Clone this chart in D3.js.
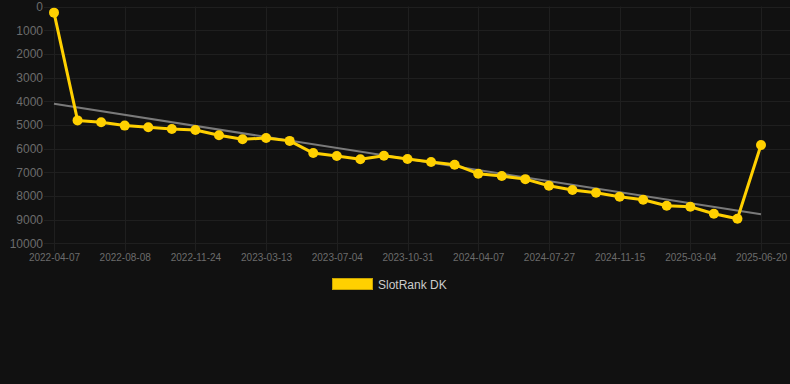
<!DOCTYPE html>
<html lang="en">
<head>
<meta charset="UTF-8">
<title>SlotRank DK</title>
<script src="https://cdn.jsdelivr.net/npm/d3@7"></script>
<style>
    html, body { margin: 0; padding: 0; background: #111111; }
    svg { display: block; font-family: "Liberation Sans", Arial, Helvetica, sans-serif; }
    .grid line { stroke: #1f1f1f; stroke-width: 1; }
    .tick-label { fill: #6c6c6c; }
    .legend text { fill: #cccccc; font-size: 12px; }
</style>
</head>
<body>
<svg width="790" height="384"></svg>
<script>
// categories (one per sample) and tick labels
const dates = [
    "2022-04-07", "2022-05-10", "2022-07-06", "2022-08-08", "2022-09-10", "2022-10-13",
    "2022-11-24", "2022-12-27", "2023-02-05", "2023-03-13", "2023-04-15", "2023-05-28",
    "2023-07-04", "2023-08-06", "2023-09-20", "2023-10-31", "2023-12-04", "2024-01-30",
    "2024-04-07", "2024-05-10", "2024-06-15", "2024-07-27", "2024-08-30", "2024-10-02",
    "2024-11-15", "2024-12-18", "2025-01-25", "2025-03-04", "2025-04-08", "2025-05-14",
    "2025-06-20"
];
const tickLabels = [
    "2022-04-07", "2022-08-08", "2022-11-24", "2023-03-13", "2023-07-04", "2023-10-31",
    "2024-04-07", "2024-07-27", "2024-11-15", "2025-03-04", "2025-06-20"
];
// rank values (lower is better, axis reversed)
const rank = [
    260, 4810, 4890, 5030, 5100, 5170, 5215, 5440, 5605, 5555, 5675,
    6190, 6310, 6450, 6300, 6440, 6570, 6680, 7060, 7160, 7290,
    7570, 7750, 7865, 8035, 8160, 8415, 8455, 8750, 8965, 5850
];
// trend line ends
const trend = [4110, 8775];
const yTicks = [0, 1000, 2000, 3000, 4000, 5000, 6000, 7000, 8000, 9000, 10000];
const seriesName = "SlotRank DK";

const svg = d3.select("svg"),
      width = +svg.attr("width");

const x = d3.scalePoint().domain(dates).range([54, 761]);
const y = d3.scaleLinear().domain([0, 10000]).range([6.5, 243.3]);

// horizontal grid
svg.append("g")
    .attr("class", "grid")
    .selectAll("line")
    .data(yTicks)
    .enter().append("line")
    .attr("x1", 44)
    .attr("x2", width)
    .attr("y1", d => Math.round(y(d)) + 0.5)
    .attr("y2", d => Math.round(y(d)) + 0.5);

// vertical grid
svg.append("g")
    .attr("class", "grid")
    .selectAll("line")
    .data(tickLabels)
    .enter().append("line")
    .attr("x1", d => Math.round(x(d)) + 0.5)
    .attr("x2", d => Math.round(x(d)) + 0.5)
    .attr("y1", y(0))
    .attr("y2", y(10000) + 8);

// y axis labels
const yAxis = svg.append("g")
    .attr("transform", "translate(43,0)")
    .call(d3.axisLeft(y).tickValues(yTicks).tickSize(0).tickPadding(0).tickFormat(d3.format("d")));
yAxis.select(".domain").remove();
yAxis.selectAll("text")
    .attr("class", "tick-label")
    .style("font-size", "12px")
    .style("font-family", null);

// x axis labels
const xAxis = svg.append("g")
    .attr("transform", `translate(0,${y(10000)})`)
    .call(d3.axisBottom(x).tickValues(tickLabels).tickSize(0).tickPadding(11));
xAxis.select(".domain").remove();
xAxis.selectAll("text")
    .attr("class", "tick-label")
    .style("font-size", "10px")
    .style("font-family", null);

// trend line
svg.append("line")
    .attr("x1", x(dates[0]))
    .attr("y1", y(trend[0]))
    .attr("x2", x(dates[dates.length - 1]))
    .attr("y2", y(trend[1]))
    .attr("stroke", "#7a7a7a")
    .attr("stroke-width", 2);

// series line
const line = d3.line()
    .x((d, i) => x(dates[i]))
    .y(d => y(d));

svg.append("path")
    .datum(rank)
    .attr("fill", "none")
    .attr("stroke", "#ffd000")
    .attr("stroke-width", 3)
    .attr("stroke-linejoin", "round")
    .attr("d", line);

svg.append("g")
    .selectAll("circle")
    .data(rank)
    .enter().append("circle")
    .attr("cx", (d, i) => x(dates[i]))
    .attr("cy", d => y(d))
    .attr("r", 5)
    .attr("fill", "#ffd000");

// legend
const legend = svg.append("g")
    .attr("class", "legend")
    .attr("transform", "translate(332,278)");

legend.append("rect")
    .attr("x", 0.5)
    .attr("y", 0.5)
    .attr("width", 40)
    .attr("height", 11)
    .attr("fill", "#ffd000")
    .attr("stroke", "#c9a400")
    .attr("stroke-width", 1);

legend.append("text")
    .attr("x", 46)
    .attr("y", 10.5)
    .text(seriesName);
</script>
</body>
</html>
